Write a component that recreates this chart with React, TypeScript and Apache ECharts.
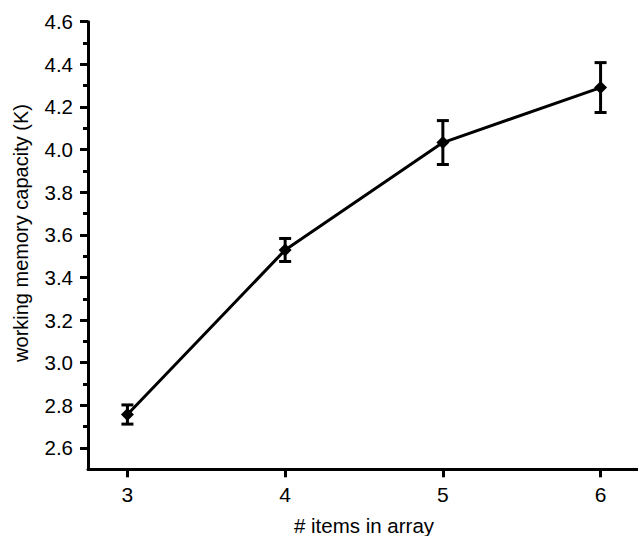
import React, { useEffect, useRef } from "react";
import * as echarts from "echarts";

const xValues = [3, 4, 5, 6];
const means = [2.757, 3.529, 4.033, 4.291];
const errors = [0.045, 0.054, 0.103, 0.117];
const xTicks = [3, 4, 5, 6];
const yMajorTicks = [2.6, 2.8, 3.0, 3.2, 3.4, 3.6, 3.8, 4.0, 4.2, 4.4, 4.6];
const yMinorTicks = [2.7, 2.9, 3.1, 3.3, 3.5, 3.7, 3.9, 4.1, 4.3, 4.5];
const xName = "# items in array";
const yName = "working memory capacity (K)";

const FONT = "'Liberation Sans', Arial, sans-serif";

export default function App() {
  const ref = useRef<HTMLDivElement>(null);
  useEffect(() => {
    if (!ref.current) return;
    const chart = echarts.init(ref.current, null, { renderer: "svg" });
    const pts = xValues.map((x, i) => [x, means[i]]);
    const errData = xValues.map((x, i) => [x, means[i] - errors[i], means[i] + errors[i]]);
    chart.setOption({
      animation: false,
      backgroundColor: "#ffffff",
      grid: {
        left: 88,
        right: -2,
        top: 21.7,
        bottom: 66.7,
        containLabel: false,
        outerBoundsMode: "none",
      },
      xAxis: {
        type: "value",
        min: 2.75,
        max: 6.25,
        name: xName,
        nameLocation: "middle",
        nameGap: 46,
        nameTextStyle: { fontFamily: FONT, fontSize: 20.5, color: "#000" },
        axisLine: { show: true, onZero: false, lineStyle: { color: "#000", width: 3 } },
        axisTick: { show: true, customValues: xTicks, length: 8, lineStyle: { color: "#000", width: 3 } },
        axisLabel: {
          customValues: xTicks,
          margin: 15,
          fontFamily: FONT,
          fontSize: 21,
          color: "#000",
          formatter: (v: number) => String(v),
        },
        splitLine: { show: false },
      },
      yAxis: [
        {
          type: "value",
          min: 2.5,
          max: 4.6,
          position: "left",
          axisLine: { show: true, onZero: false, lineStyle: { color: "#000", width: 3 } },
          axisTick: { show: true, customValues: yMajorTicks, length: 8, lineStyle: { color: "#000", width: 3 } },
          axisLabel: {
            customValues: yMajorTicks,
            margin: 15,
            fontFamily: FONT,
            fontSize: 20.5,
            color: "#000",
            formatter: (v: number) => v.toFixed(1),
          },
          splitLine: { show: false },
        },
        {
          type: "value",
          min: 2.5,
          max: 4.6,
          position: "left",
          offset: 0,
          axisLine: { show: false },
          axisTick: { show: true, customValues: yMinorTicks, length: 5, lineStyle: { color: "#000", width: 3 } },
          axisLabel: { show: false },
          splitLine: { show: false },
        },
      ],
      graphic: [
        {
          type: "text",
          x: 21,
          y: 233,
          rotation: Math.PI / 2,
          style: {
            text: yName,
            fontFamily: FONT,
            fontSize: 20,
            fill: "#000",
            align: "center",
            verticalAlign: "middle",
          },
        },
      ],
      series: [
        {
          type: "custom",
          yAxisIndex: 0,
          data: errData,
          renderItem: (params: any, api: any) => {
            const x = api.value(0);
            const lo = api.coord([x, api.value(1)]);
            const hi = api.coord([x, api.value(2)]);
            const hw = 6;
            const style = { stroke: "#000", lineWidth: 3 };
            return {
              type: "group",
              children: [
                { type: "line", shape: { x1: lo[0], y1: lo[1], x2: hi[0], y2: hi[1] }, style },
                { type: "line", shape: { x1: lo[0] - hw, y1: lo[1], x2: lo[0] + hw, y2: lo[1] }, style },
                { type: "line", shape: { x1: hi[0] - hw, y1: hi[1], x2: hi[0] + hw, y2: hi[1] }, style },
              ],
            };
          },
          z: 3,
        },
        {
          type: "line",
          yAxisIndex: 0,
          data: pts,
          symbol: "diamond",
          symbolSize: 13,
          showSymbol: true,
          lineStyle: { color: "#000", width: 3 },
          itemStyle: { color: "#000" },
          z: 4,
        },
      ],
    });
    return () => chart.dispose();
  }, []);
  return <div ref={ref} style={{ width: 638, height: 536, position: "absolute", left: 0, top: 0 }} />;
}
